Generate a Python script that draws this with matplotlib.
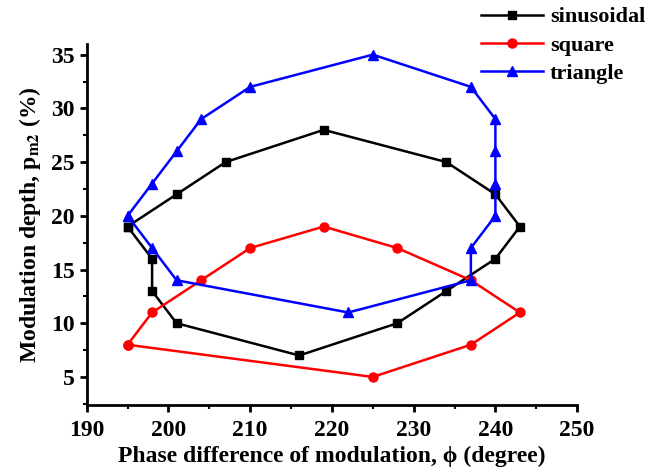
import matplotlib
matplotlib.use("Agg")
import matplotlib.pyplot as plt
from matplotlib.ticker import MultipleLocator

# phase difference (degree) and modulation depth (%) for each waveform, closed loops
sin_phase = [195, 198, 198, 201, 216, 228, 234, 240, 243, 240, 234, 219, 207, 201, 195]
sin_depth = [19, 16, 13, 10, 7, 10, 13, 16, 19, 22, 25, 28, 25, 22, 19]

sq_phase = [195, 198, 204, 210, 219, 228, 237, 243, 237, 225, 195]
sq_depth = [8, 11, 14, 17, 19, 17, 14, 11, 8, 5, 8]

tri_phase = [195, 198, 201, 204, 210, 225, 237, 240, 240, 240, 240, 237, 237, 222, 201, 198, 195]
tri_depth = [20, 23, 26, 29, 32, 35, 32, 29, 26, 23, 20, 17, 14, 11, 14, 17, 20]

x_ticks = [190, 200, 210, 220, 230, 240, 250]
y_ticks = [5, 10, 15, 20, 25, 30, 35]

plt.rcParams['font.family'] = ['Liberation Serif', 'DejaVu Serif']
plt.rcParams['font.weight'] = 'bold'
plt.rcParams['mathtext.fontset'] = 'stix'

fig = plt.figure(figsize=(6.47, 4.67), dpi=100)
ax = fig.add_axes([0.134, 0.133, 0.758, 0.773])

ax.plot(sin_phase, sin_depth, color='black', marker='s', markersize=6, linewidth=1.8, label='sinusoidal')
ax.plot(sq_phase, sq_depth, color='#ff0000', marker='o', markersize=6.5, linewidth=1.8, label='square')
ax.plot(tri_phase, tri_depth, color='#0000ff', marker='^', markersize=7, linewidth=1.8, label='triangle')

ax.set_xlim(190, 250)
ax.set_ylim(2.4, 36)
ax.set_xticks(x_ticks)
ax.set_yticks(y_ticks)
ax.xaxis.set_minor_locator(MultipleLocator(5))
ax.yaxis.set_minor_locator(MultipleLocator(2.5))

for side in ['top', 'right']:
    ax.spines[side].set_visible(False)
for side in ['left', 'bottom']:
    ax.spines[side].set_linewidth(2)

ax.tick_params(which='major', direction='out', length=5, width=2, labelsize=17)
ax.tick_params(axis='x', which='major', pad=6)
ax.tick_params(which='minor', direction='out', length=3, width=1.5)
for lab in ax.get_xticklabels() + ax.get_yticklabels():
    lab.set_fontweight('bold')

ax.set_xlabel('Phase difference of modulation, \u03d5 (degree)', fontsize=17, fontweight='bold', labelpad=3)
ax.set_ylabel('Modulation depth, p$_{\\mathbf{m2}}$ (%)', fontsize=17, fontweight='bold', labelpad=6)

fig.legend(loc='upper right', bbox_to_anchor=(1.028, 1.028), frameon=False,
           prop={'size': 16, 'weight': 'bold'}, handlelength=2.8,
           labelspacing=0.35, handletextpad=0.3)

fig.savefig('out.png', dpi=100)
